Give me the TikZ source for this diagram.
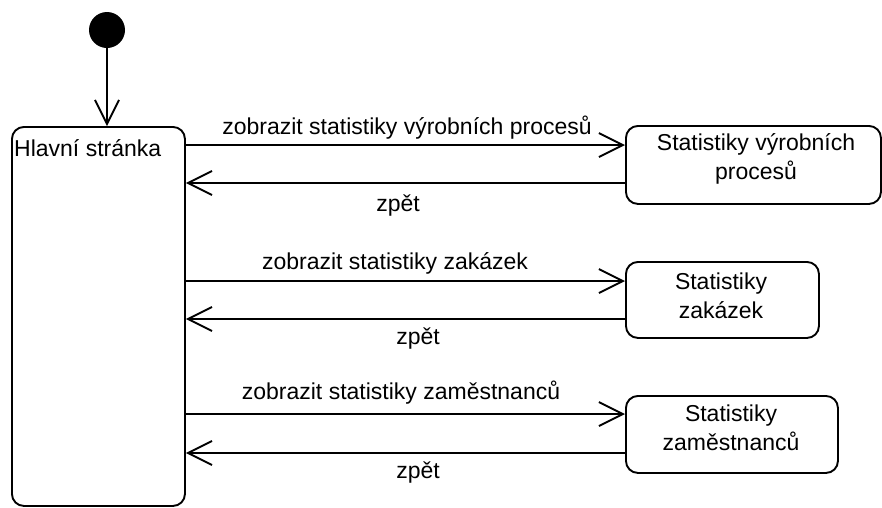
\documentclass[tikz,border=0pt]{standalone}
\usepackage{fontspec}
\setmainfont{Liberation Sans}
\usetikzlibrary{arrows.meta}
\begin{document}
\begin{tikzpicture}[x=1pt,y=-1pt,
  state/.style={draw, line width=1.9pt, rounded corners=12pt, inner sep=0pt},
  lbl/.style={font=\fontsize{23}{29}\selectfont, inner sep=0pt, align=center},
  tr/.style={line width=1.9pt, -{Straight Barb[length=24pt,width=24pt,line width=1.9pt]}},
  ]
\useasboundingbox (0,0) rectangle (882,507);
\node[circle, fill=black, minimum size=36pt, inner sep=0pt] (start) at (107,30) {};
\node[state, anchor=north west, minimum width=173pt, minimum height=379pt] (main) at (11,126) {};
\node[lbl, anchor=west] (mainlbl) at (14,148) {Hlavní stránka};
\node[state, anchor=north west, minimum width=255pt, minimum height=78pt] (b1) at (625,125) {};
\node[lbl] (b1t) at (756,159) {Statistiky výrobních\\procesů};
\node[state, anchor=north west, minimum width=193pt, minimum height=76pt] (b2) at (625,261) {};
\node[lbl] (b2t) at (721,296) {Statistiky\\zakázek};
\node[state, anchor=north west, minimum width=212pt, minimum height=77pt] (b3) at (625,395) {};
\node[lbl] (b3t) at (731,428) {Statistiky\\zaměstnanců};
\draw[tr] (start.south) -- (main.north -| start.south);
% row 1
\draw[tr] (main.east |- 0,145) -- (b1.west |- 0,145);
\draw[tr] (b1.west |- 0,183) -- (main.east |- 0,183);
\node[lbl] (l1) at (407,128) {zobrazit statistiky výrobních procesů};
\node[lbl] (z1) at (398,206) {zpět};
% row 2
\draw[tr] (main.east |- 0,281) -- (b2.west |- 0,281);
\draw[tr] (b2.west |- 0,319) -- (main.east |- 0,319);
\node[lbl] (l2) at (395,263) {zobrazit statistiky zakázek};
\node[lbl] (z2) at (418,339) {zpět};
% row 3
\draw[tr] (main.east |- 0,414) -- (b3.west |- 0,414);
\draw[tr] (b3.west |- 0,453) -- (main.east |- 0,453);
\node[lbl] (l3) at (401,393) {zobrazit statistiky zaměstnanců};
\node[lbl] (z3) at (418,473) {zpět};
\end{tikzpicture}
\end{document}
